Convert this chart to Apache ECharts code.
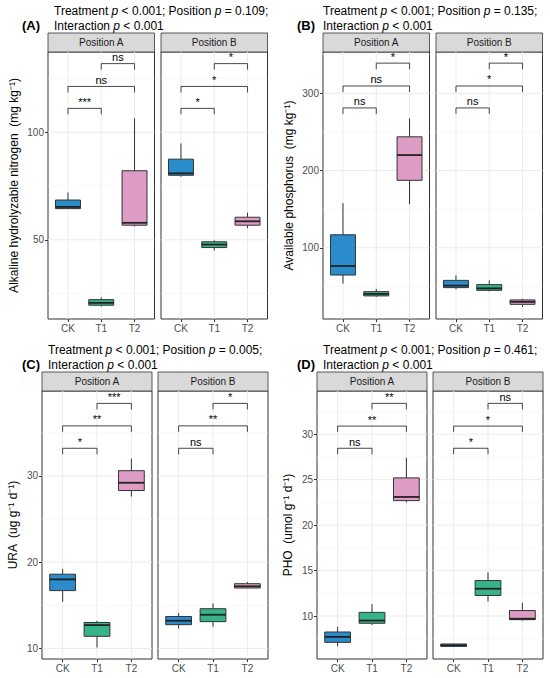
<!DOCTYPE html>
<html>
<head>
<meta charset="utf-8">
<script src="https://cdn.jsdelivr.net/npm/echarts@6/dist/echarts.min.js"></script>
<style>
  html, body { margin: 0; padding: 0; background: #fff; }
  #chart { width: 550px; height: 678px; }
</style>
</head>
<body>
<div id="chart"></div>
<script>
// ---- data ----
const treatments = ['CK', 'T1', 'T2'];
const positions = ['Position A', 'Position B'];
const positionP = ['0.109', '0.135', '0.005', '0.461'];

// box stats per treatment: [lower whisker, Q1, median, Q3, upper whisker]
const nitrogenA = [[64.5, 64.5, 65.3, 68.5, 72.0], [19.0, 19.6, 20.7, 22.2, 23.3], [56.2, 56.8, 57.9, 82.1, 106.5]];
const nitrogenB = [[79.3, 80.0, 80.9, 87.5, 94.8], [45.0, 46.4, 47.8, 49.1, 49.8], [55.4, 56.8, 58.6, 60.5, 62.6]];
const phosphorusA = [[53.5, 64.7, 76.4, 116.8, 157.7], [36.4, 37.7, 40.2, 43.2, 46.7], [156.4, 187.3, 220.0, 243.6, 267.4]];
const phosphorusB = [[46.2, 48.4, 51.0, 57.8, 64.3], [43.6, 44.9, 47.5, 52.3, 57.8], [23.5, 26.8, 30.0, 32.5, 33.8]];
const uraA = [[15.4, 16.7, 18.0, 18.6, 19.2], [10.1, 11.4, 12.7, 13.0, 13.2], [27.6, 28.3, 29.2, 30.6, 32.0]];
const uraB = [[12.3, 12.75, 13.2, 13.7, 14.1], [12.5, 13.1, 13.9, 14.6, 15.2], [17.0, 17.0, 17.2, 17.5, 17.7]];
const phoA = [[6.66, 7.1, 7.7, 8.24, 8.8], [9.0, 9.2, 9.5, 10.4, 11.3], [22.5, 22.7, 23.1, 25.2, 27.4]];
const phoB = [[6.6, 6.66, 6.77, 6.92, 6.95], [11.6, 12.26, 13.0, 13.9, 14.8], [9.5, 9.6, 9.7, 10.6, 11.46]];

// significance: CK-T1, CK-T2, T1-T2
const pairs = [[1, 2], [1, 3], [2, 3]];
const nitrogenSigA = ['***', 'ns', 'ns'];
const nitrogenSigB = ['*', '*', '*'];
const phosphorusSigA = ['ns', 'ns', '*'];
const phosphorusSigB = ['ns', '*', '*'];
const uraSigA = ['*', '**', '***'];
const uraSigB = ['ns', '**', '*'];
const phoSigA = ['ns', '**', '**'];
const phoSigB = ['*', '*', 'ns'];

// bracket heights (data units)
const nitrogenBracketY = [111.1, 121.3, 131.9];
const phosphorusBracketY = [281, 309.4, 339];
const uraBracketY = [33.2, 35.8, 38.4];
const phoBracketY = [28.46, 30.9, 33.4];

// y ranges and ticks
const nitrogenRange = [13.2, 137.3], nitrogenMajor = [50, 100], nitrogenMinor = [25, 75, 125];
const phosphorusRange = [7.8, 353.4], phosphorusMajor = [100, 200, 300], phosphorusMinor = [50, 150, 250, 350];
const uraRange = [8.77, 39.84], uraMajor = [10, 20, 30], uraMinor = [15, 25, 35];
const phoRange = [5.27, 34.76], phoMajor = [10, 15, 20, 25, 30], phoMinor = [7.5, 12.5, 17.5, 22.5, 27.5, 32.5];

// ---- styling / layout ----
const FONT = '"Liberation Sans", Arial, sans-serif';
const treatmentColors = ['#2b8ccb', '#37b38c', '#dd9cc4'];

const panels = [
    { label: '(A)', yName: 'Alkaline hydrolyzable nitrogen  (mg kg⁻¹)',
      boxes: [nitrogenA, nitrogenB], sig: [nitrogenSigA, nitrogenSigB], bracketY: nitrogenBracketY,
      range: nitrogenRange, major: nitrogenMajor, minor: nitrogenMinor,
      left: [48, 161], width: 106.5, top: 52, height: 267, titleX: 54, labelX: 22, titleY: 11, yNameX: 14 },
    { label: '(B)', yName: 'Available phosphorus  (mg kg⁻¹)',
      boxes: [phosphorusA, phosphorusB], sig: [phosphorusSigA, phosphorusSigB], bracketY: phosphorusBracketY,
      range: phosphorusRange, major: phosphorusMajor, minor: phosphorusMinor,
      left: [323, 436], width: 106.5, top: 52, height: 267, titleX: 323, labelX: 297, titleY: 11, yNameX: 289 },
    { label: '(C)', yName: 'URA  (ug g⁻¹ d⁻¹)',
      boxes: [uraA, uraB], sig: [uraSigA, uraSigB], bracketY: uraBracketY,
      range: uraRange, major: uraMajor, minor: uraMinor,
      left: [42, 158], width: 110, top: 391, height: 268, titleX: 48, labelX: 22, titleY: 350, yNameX: 13 },
    { label: '(D)', yName: 'PHO  (umol g⁻¹ d⁻¹)',
      boxes: [phoA, phoB], sig: [phoSigA, phoSigB], bracketY: phoBracketY,
      range: phoRange, major: phoMajor, minor: phoMinor,
      left: [317, 433], width: 110, top: 391, height: 268, titleX: 323, labelX: 297, titleY: 350, yNameX: 288 }
];

function renderGridLine(params, api) {
    const kind = api.value(0);
    const v = api.value(1);
    const cs = params.coordSys;
    if (kind === 2) {
        const x = api.coord([v, 0])[0];
        return { type: 'line', shape: { x1: x, y1: cs.y, x2: x, y2: cs.y + cs.height },
                 style: { stroke: '#ebebeb', lineWidth: 1 } };
    }
    const y = api.coord([1, v])[1];
    return { type: 'line', shape: { x1: cs.x, y1: y, x2: cs.x + cs.width, y2: y },
             style: { stroke: kind === 0 ? '#f3f3f3' : '#ebebeb', lineWidth: kind === 0 ? 0.6 : 1 } };
}

function renderBox(params, api) {
    const x = api.value(0);
    const lo = api.value(1), q1 = api.value(2), med = api.value(3), q3 = api.value(4), hi = api.value(5);
    const half = api.size([0.75, 0])[0] / 2;
    const cx = api.coord([x, med])[0];
    const yLo = api.coord([x, lo])[1];
    const yQ1 = api.coord([x, q1])[1];
    const yMed = api.coord([x, med])[1];
    const yQ3 = api.coord([x, q3])[1];
    const yHi = api.coord([x, hi])[1];
    return {
        type: 'group',
        children: [
            { type: 'line', shape: { x1: cx, y1: yHi, x2: cx, y2: yQ3 }, style: { stroke: '#333', lineWidth: 1 } },
            { type: 'line', shape: { x1: cx, y1: yQ1, x2: cx, y2: yLo }, style: { stroke: '#333', lineWidth: 1 } },
            { type: 'rect', shape: { x: cx - half, y: yQ3, width: half * 2, height: yQ1 - yQ3 },
              style: { fill: treatmentColors[x - 1], stroke: '#333', lineWidth: 1 } },
            { type: 'line', shape: { x1: cx - half, y1: yMed, x2: cx + half, y2: yMed },
              style: { stroke: '#222', lineWidth: 1.8 } }
        ]
    };
}

const grid = [], xAxis = [], yAxis = [], series = [], graphic = [];

panels.forEach((p, pi) => {
    // titles
    graphic.push({ type: 'text', x: p.titleX, y: p.titleY, style: {
        text: 'Treatment {i|p} < 0.001; Position {i|p} = ' + positionP[pi] + ';',
        rich: { i: { fontStyle: 'italic', fontSize: 12, fontFamily: FONT, fill: '#000' } },
        fontSize: 12, fontFamily: FONT, fill: '#000', align: 'left', verticalAlign: 'middle' } });
    graphic.push({ type: 'text', x: p.titleX, y: p.titleY + 14.5, style: {
        text: 'Interaction {i|p} < 0.001',
        rich: { i: { fontStyle: 'italic', fontSize: 12, fontFamily: FONT, fill: '#000' } },
        fontSize: 12, fontFamily: FONT, fill: '#000', align: 'left', verticalAlign: 'middle' } });
    graphic.push({ type: 'text', x: p.labelX, y: p.titleY + 14.5, style: {
        text: p.label, fontSize: 13, fontWeight: 'bold', fontFamily: FONT, fill: '#000',
        align: 'left', verticalAlign: 'middle' } });
    graphic.push({ type: 'text', x: p.yNameX, y: p.top + p.height / 2, rotation: Math.PI / 2, style: {
        text: p.yName, fontSize: 12, fontFamily: FONT, fill: '#000', align: 'center', verticalAlign: 'middle' } });

    p.left.forEach((left, fi) => {
        const gi = grid.length;
        grid.push({ left: left, top: p.top, width: p.width, height: p.height,
                    show: true, borderColor: '#333', borderWidth: 1, backgroundColor: '#fff' });

        // facet strip
        graphic.push({ type: 'rect', shape: { x: left, y: p.top - 19, width: p.width, height: 19 },
                       style: { fill: '#d9d9d9', stroke: '#333', lineWidth: 0.8 } });
        graphic.push({ type: 'text', x: left + p.width / 2, y: p.top - 9.5, style: {
            text: positions[fi], fontSize: 10, fontFamily: FONT, fill: '#1a1a1a',
            align: 'center', verticalAlign: 'middle' } });

        xAxis.push({
            gridIndex: gi, type: 'value', min: 0.4, max: 3.6,
            axisLine: { show: false }, splitLine: { show: false },
            axisTick: { customValues: [1, 2, 3], length: 3, lineStyle: { color: '#333' } },
            axisLabel: { customValues: [1, 2, 3], formatter: v => treatments[Math.round(v) - 1],
                         color: '#4d4d4d', fontSize: 10, margin: 4, fontFamily: FONT }
        });
        yAxis.push({
            gridIndex: gi, type: 'value', min: p.range[0], max: p.range[1],
            axisLine: { show: false }, splitLine: { show: false },
            axisTick: { show: fi === 0, customValues: p.major, length: 3, lineStyle: { color: '#333' } },
            axisLabel: { show: fi === 0, customValues: p.major, color: '#4d4d4d', fontSize: 10,
                         margin: 4, fontFamily: FONT }
        });

        // panel grid lines
        series.push({
            type: 'custom', xAxisIndex: gi, yAxisIndex: gi, z: 1, silent: true,
            renderItem: renderGridLine,
            data: [].concat(p.minor.map(v => [0, v]), p.major.map(v => [1, v]), treatments.map((t, i) => [2, i + 1]))
        });

        // boxes
        series.push({
            type: 'custom', xAxisIndex: gi, yAxisIndex: gi, z: 3, silent: true,
            renderItem: renderBox,
            data: p.boxes[fi].map((b, i) => [i + 1].concat(b))
        });

        // significance brackets
        const labels = p.sig[fi];
        series.push({
            type: 'custom', xAxisIndex: gi, yAxisIndex: gi, z: 4, silent: true,
            data: pairs.map((pr, k) => [pr[0], pr[1], p.bracketY[k]]),
            renderItem: function (params, api) {
                const a = api.coord([api.value(0), api.value(2)]);
                const b = api.coord([api.value(1), api.value(2)]);
                const tip = 6;
                return {
                    type: 'group',
                    children: [
                        { type: 'polyline',
                          shape: { points: [[a[0], a[1] + tip], [a[0], a[1]], [b[0], b[1]], [b[0], b[1] + tip]] },
                          style: { stroke: '#1a1a1a', lineWidth: 0.8, fill: null } },
                        { type: 'text', x: (a[0] + b[0]) / 2, y: a[1] - 1,
                          style: { text: labels[params.dataIndex], font: '11px "Liberation Sans"',
                                   fill: '#000', stroke: null,
                                   align: 'center', verticalAlign: 'bottom' } }
                    ]
                };
            }
        });
    });
});

const chart = echarts.init(document.getElementById('chart'), null, { renderer: 'svg' });
chart.setOption({
    animation: false,
    backgroundColor: '#fff',
    grid: grid,
    xAxis: xAxis,
    yAxis: yAxis,
    series: series,
    graphic: graphic
});

window.addEventListener('resize', function () {
    chart.resize();
});
</script>
</body>
</html>
